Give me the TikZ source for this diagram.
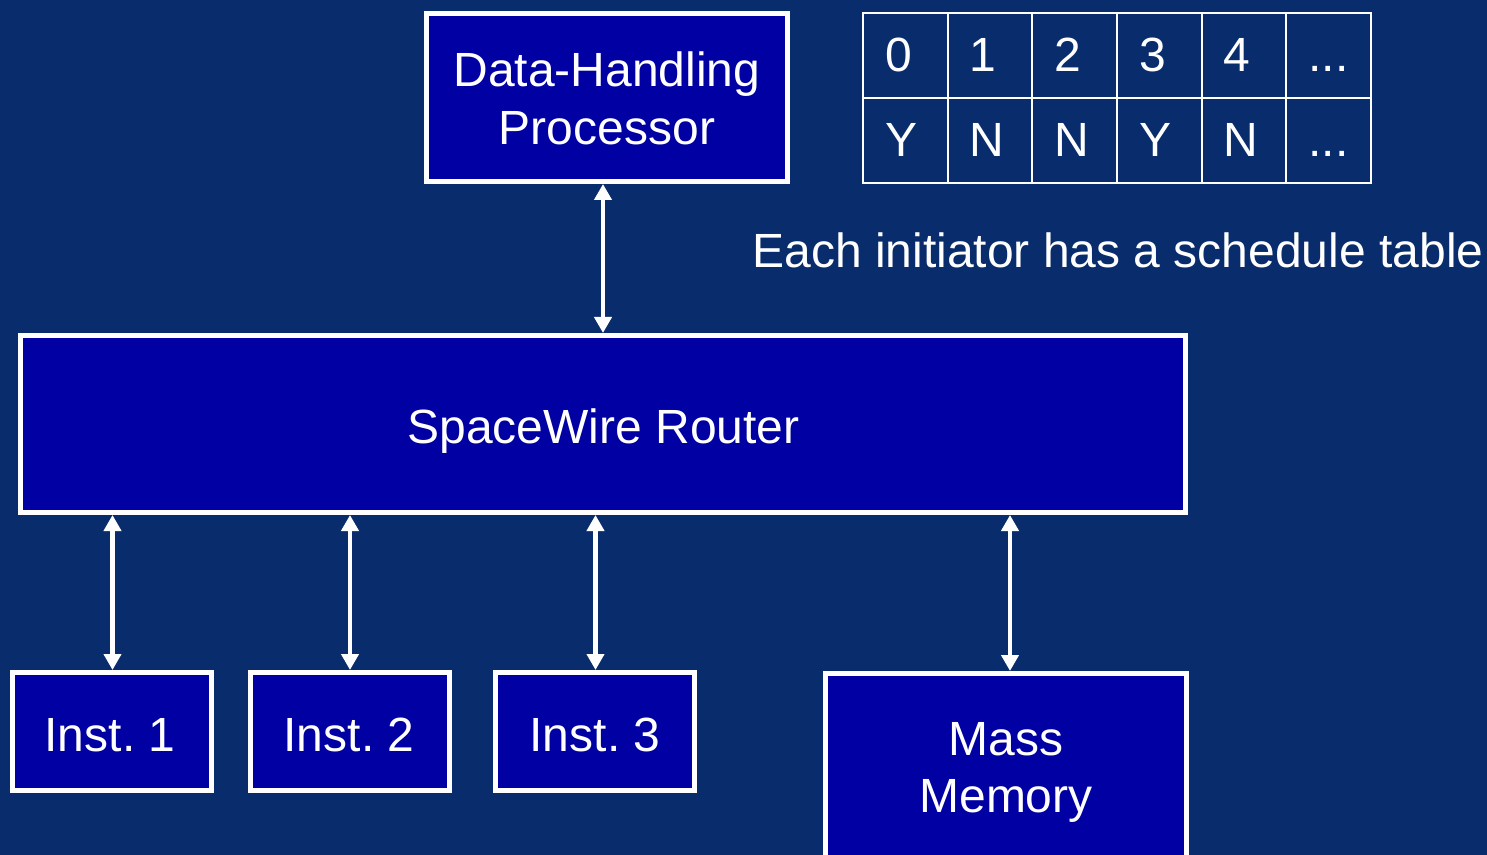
\documentclass[tikz,border=0pt]{standalone}
\usepackage{fontspec}
\setmainfont{Liberation Sans}
\usetikzlibrary{arrows.meta}
\frenchspacing

\definecolor{slidebg}{RGB}{9,45,108}
\definecolor{unitblue}{RGB}{0,0,163}

\tikzset{
  unit/.style={draw=white, line width=2.5pt, fill=unitblue, inner sep=0pt},
  unittext/.style={text=white, inner sep=0pt, anchor=base,
    font=\fontsize{24}{29}\selectfont},
  cell/.style={draw=white, line width=1pt, text=white,
    minimum width=42.33pt, minimum height=42.5pt,
    text width=20.33pt, text height=17pt, text depth=1pt,
    inner xsep=11pt, inner ysep=0pt, align=left,
    font=\fontsize{24}{29}\selectfont},
  link/.style={draw=white, line width=2.3pt,
    {Triangle[width=8.5pt,length=8pt]}-{Triangle[width=8.5pt,length=8pt]}},
  caption/.style={text=white, inner sep=0pt, font=\fontsize{24}{29}\selectfont}
}
\newcommand\moredots{.\kern0pt.\kern0pt.}

\begin{document}
\begin{tikzpicture}[x=0.5pt, y=-0.5pt]
  % canvas
  \fill[slidebg] (0,0) rectangle (1487,855);
  \useasboundingbox (0,0) rectangle (1487,855);

  % units
  \node[unit, minimum width=180.5pt, minimum height=84pt] (dhp) at (607,97.5) {};
  \node[unit, minimum width=582.5pt, minimum height=88.5pt] (router) at (603,424) {};
  \node[unit, minimum width=99.5pt, minimum height=59pt] (inst1) at (112,731.5) {};
  \node[unit, minimum width=99.5pt, minimum height=59pt] (inst2) at (350,731.5) {};
  \node[unit, minimum width=99.5pt, minimum height=59pt] (inst3) at (595,731.5) {};
  \node[unit, minimum width=180.5pt, minimum height=93pt] (mass) at (1006,766.5) {};

  % unit names, one node per line, set on their baselines
  \node[unittext] (dhp-a) at (607,87) {Data-Handling};
  \node[unittext] (dhp-b) at (607,145) {Processor};
  \node[unittext] (router-a) at (603.5,443) {SpaceWire Router};
  \node[unittext] (inst1-a) at (110,751) {Inst. 1};
  \node[unittext] (inst2-a) at (349,751) {Inst. 2};
  \node[unittext] (inst3-a) at (595,751) {Inst. 3};
  \node[unittext] (mass-a) at (1006,755) {Mass};
  \node[unittext] (mass-b) at (1006,812) {Memory};

  % links to the router
  \draw[link] (603,0 |- dhp.south) -- (603,0 |- router.north);
  \draw[link] (112.5,0 |- router.south) -- (112.5,0 |- inst1.north);
  \draw[link] (350,0 |- router.south) -- (350,0 |- inst2.north);
  \draw[link] (595.5,0 |- router.south) -- (595.5,0 |- inst3.north);
  \draw[link] (1010,0 |- router.south) -- (1010,0 |- mass.north);

  % schedule table: slot numbers (top row) and flags (bottom row)
  \node[cell] (slot0) at (905.33,55.5) {0};
  \node[cell] (slot1) at (990.00,55.5) {1};
  \node[cell] (slot2) at (1074.67,55.5) {2};
  \node[cell] (slot3) at (1159.33,55.5) {3};
  \node[cell] (slot4) at (1244.00,55.5) {4};
  \node[cell] (slot5) at (1328.67,55.5) {\moredots};
  \node[cell] (flag0) at (905.33,140.5) {Y};
  \node[cell] (flag1) at (990.00,140.5) {N};
  \node[cell] (flag2) at (1074.67,140.5) {N};
  \node[cell] (flag3) at (1159.33,140.5) {Y};
  \node[cell] (flag4) at (1244.00,140.5) {N};
  \node[cell] (flag5) at (1328.67,140.5) {\moredots};

  \node[caption, anchor=base] (note) at (1118,268) {Each initiator has a schedule table};
\end{tikzpicture}
\end{document}
